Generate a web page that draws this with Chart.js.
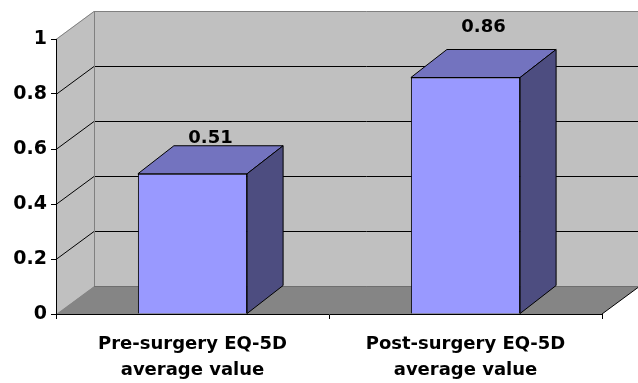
<!DOCTYPE html>
<html>
<head>
<meta charset="utf-8">
<script src="https://cdn.jsdelivr.net/npm/chart.js@4/dist/chart.umd.min.js"></script>
<style>
  html, body { margin: 0; padding: 0; background: #ffffff; }
  #wrap { width: 638px; height: 383px; }
</style>
</head>
<body>
<div id="wrap"><canvas id="c" width="638" height="383"></canvas></div>
<script>
// EQ-5D averages before and after surgery
const categories = [
  ['Pre-surgery EQ-5D', 'average value'],
  ['Post-surgery EQ-5D', 'average value']
];
const eqValues = [0.51, 0.86];
const yTickLabels = ['0', '0.2', '0.4', '0.6', '0.8', '1'];

const FONT = 'DejaVu Sans';

// Pseudo-3D frame: side wall, back wall with gridlines, and floor
const frame3d = {
  id: 'frame3d',
  beforeDraw(chart, args, opts) {
    const { ctx, chartArea: a } = chart;
    const y = chart.scales.y;
    const dx = opts.dx, dy = opts.dy;
    const y0 = y.getPixelForValue(0), y1 = y.getPixelForValue(1);
    ctx.save();
    // back wall
    ctx.fillStyle = '#c0c0c0';
    ctx.fillRect(a.left + dx, y1 + dy, a.right - a.left + 2, y0 - y1);
    // side wall
    ctx.beginPath();
    ctx.moveTo(a.left, y1); ctx.lineTo(a.left + dx, y1 + dy);
    ctx.lineTo(a.left + dx, y0 + dy); ctx.lineTo(a.left, y0);
    ctx.closePath(); ctx.fill();
    // floor
    ctx.fillStyle = '#858585';
    ctx.beginPath();
    ctx.moveTo(a.left, y0); ctx.lineTo(a.right, y0);
    ctx.lineTo(a.right + dx, y0 + dy); ctx.lineTo(a.left + dx, y0 + dy);
    ctx.closePath(); ctx.fill();
    ctx.lineWidth = 1;
    ctx.strokeStyle = '#000000';
    ctx.beginPath();
    ctx.moveTo(a.right, y0); ctx.lineTo(a.right + dx, y0 + dy);
    ctx.stroke();
    ctx.strokeStyle = '#6e6e6e';
    ctx.beginPath();
    ctx.moveTo(a.left + dx, y0 + dy + 0.5); ctx.lineTo(a.right + dx + 2, y0 + dy + 0.5);
    ctx.stroke();
    // gridlines on side and back walls
    const ticks = y.ticks.map(t => t.value);
    ticks.forEach(v => {
      if (v === 0) return;
      const py = Math.round(y.getPixelForValue(v)) + 0.5;
      ctx.strokeStyle = v === 1 ? '#808080' : '#000000';
      ctx.beginPath();
      ctx.moveTo(a.left, py);
      ctx.lineTo(a.left + dx, py + dy);
      ctx.lineTo(a.right + dx + 2, py + dy);
      ctx.stroke();
    });
    // back wall left edge
    ctx.strokeStyle = '#808080';
    ctx.beginPath();
    ctx.moveTo(a.left + dx + 0.5, y1 + dy);
    ctx.lineTo(a.left + dx + 0.5, y0 + dy);
    ctx.stroke();
    ctx.restore();
  }
};

// Top and side faces of each bar, plus value labels
const bars3d = {
  id: 'bars3d',
  afterDatasetsDraw(chart, args, opts) {
    const { ctx } = chart;
    const dx = opts.dx, dy = opts.dy;
    const meta = chart.getDatasetMeta(0);
    ctx.save();
    ctx.lineWidth = 1;
    ctx.strokeStyle = '#000000';
    ctx.lineJoin = 'miter';
    meta.data.forEach((bar, i) => {
      const p = bar.getProps(['x', 'y', 'base', 'width'], true);
      const x0 = p.x - p.width / 2, x1 = p.x + p.width / 2;
      const yt = p.y, yb = p.base;
      // top face
      ctx.fillStyle = opts.topColor;
      ctx.beginPath();
      ctx.moveTo(x0, yt); ctx.lineTo(x1, yt);
      ctx.lineTo(x1 + dx, yt + dy); ctx.lineTo(x0 + dx, yt + dy);
      ctx.closePath(); ctx.fill(); ctx.stroke();
      // side face
      ctx.fillStyle = opts.sideColor;
      ctx.beginPath();
      ctx.moveTo(x1, yt); ctx.lineTo(x1 + dx, yt + dy);
      ctx.lineTo(x1 + dx, yb + dy); ctx.lineTo(x1, yb);
      ctx.closePath(); ctx.fill(); ctx.stroke();
      // value label
      const val = chart.data.datasets[0].data[i];
      ctx.fillStyle = '#000000';
      ctx.font = 'bold 18px "' + FONT + '"';
      ctx.textAlign = 'center';
      ctx.textBaseline = 'alphabetic';
      ctx.fillText(val.toFixed(2), p.x + dx / 2, yt + dy - opts.labelLift[i]);
    });
    ctx.restore();
  }
};

new Chart(document.getElementById('c'), {
  type: 'bar',
  data: {
    labels: categories,
    datasets: [{
      data: eqValues,
      backgroundColor: '#9999ff',
      borderColor: '#000000',
      borderWidth: 1,
      barPercentage: 0.4,
      categoryPercentage: 1.0
    }]
  },
  options: {
    responsive: false,
    animation: false,
    devicePixelRatio: 1,
    layout: { padding: { top: 39, right: 36, left: 0, bottom: 0 } },
    plugins: {
      legend: { display: false },
      tooltip: { enabled: false },
      frame3d: { dx: 38, dy: -28 },
      bars3d: { dx: 36, dy: -28, topColor: '#7373bf', sideColor: '#4d4d80', labelLift: [3, 18] }
    },
    scales: {
      x: {
        afterFit(s) { s.height = 69; },
        grid: {
          display: true, drawOnChartArea: false, drawTicks: true,
          tickLength: 5, color: '#000000', lineWidth: 1, offset: true
        },
        border: { display: true, color: '#000000', width: 1 },
        ticks: {
          color: '#000000', padding: 12, maxRotation: 0, autoSkip: false,
          font: { family: FONT, weight: 'bold', size: 18, lineHeight: 1.45 }
        }
      },
      y: {
        min: 0, max: 1,
        afterFit(s) { s.width = 56; },
        grid: {
          display: true, drawOnChartArea: false, drawTicks: true,
          tickLength: 5, color: '#000000', lineWidth: 1
        },
        border: { display: true, color: '#000000', width: 1 },
        ticks: {
          stepSize: 0.2, color: '#000000', padding: 4,
          font: { family: FONT, weight: 'bold', size: 19 },
          callback: (v, i) => yTickLabels[i]
        }
      }
    }
  },
  plugins: [frame3d, bars3d]
});
</script>
</body>
</html>
